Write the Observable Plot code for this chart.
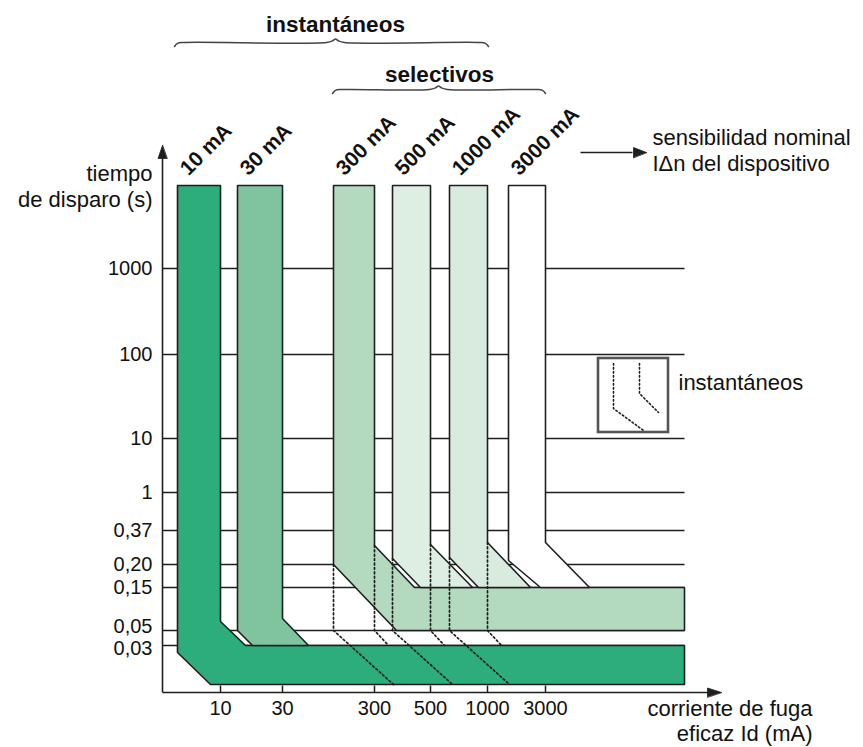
<!DOCTYPE html>
<html>
<head>
<meta charset="utf-8">
<script src="https://cdn.jsdelivr.net/npm/d3@7"></script>
<script src="https://cdn.jsdelivr.net/npm/@observablehq/plot@0.6"></script>
<style>
  html, body { margin: 0; padding: 0; background: #fff; }
  #chart svg { display: block; }
</style>
</head>
<body>
<div id="chart"></div>
<script>
// ---------------- DATA (schematic units: x = current axis, y = trip-time axis) ----------------
const devices      = ["10 mA", "30 mA", "300 mA", "500 mA", "1000 mA", "3000 mA"];
const currentTicks = ["10", "30", "300", "500", "1000", "3000"];          // IΔn (mA)
const bandLeft     = [15, 75, 171, 230, 287, 346];                         // lower limit of the trip band
const bandRight    = [58, 120, 212, 268, 325, 383];                        // IΔn (tick position)
const bendRight    = [71, 74, 147, 148, 150, 150];                         // where the inner edge bends
const bendLeft     = [40, 62, 128, 134, 135, 132];                         // where the outer edge bends
const meetRight    = [83, 146, 252, 310, 368, 427];                        // inner diagonal reaches plateau
const meetLeft     = [48, 90, 234, 258, 316, 378];                         // outer diagonal reaches plateau
const family       = [0, 0, 1, 1, 1, 1];                                   // 0 = instantáneo, 1 = selectivo
const ownsPlateau  = [true, false, true, false, false, false];
const bandTop      = 507;
const plateauTop   = [47, 105];                                            // 0,03 s  /  0,15 s
const plateauBottom= [8, 62];                                              // —      /  0,05 s
const plateauEnd   = 522;

const timeLabels   = ["1000", "100", "10", "1", "0,37", "0,20", "0,15", "0,05", "0,03"];
const timeLevels   = [424, 338, 254, 200, 162, 128, 105, 62, 47];

// instantaneous versions of the selective devices (dotted)
const instOf        = [2, 3, 4];
const instMeetLeft  = [231, 290, 347];
const instMeetRight = [226, 282, 339];

const groups = [
  {name: "instantáneos", from: 0, to: 4},
  {name: "selectivos",   from: 2, to: 5}
];

// ---------------- STYLE ----------------
const fills = ["#2cad7b", "#80c49f", "#b3d9bf", "#ddeee2", "#d9ebde", "#ffffff"];
const ink = "#1e1e1e";
const font = "'Liberation Sans', Arial, Helvetica, sans-serif";

// ---------------- GEOMETRY BUILT FROM DATA ----------------
function bandPolygon(i) {
  const p = family[i];
  const pts = [[bandLeft[i], bandTop], [bandRight[i], bandTop], [bandRight[i], bendRight[i]], [meetRight[i], plateauTop[p]]];
  if (ownsPlateau[i]) pts.push([plateauEnd, plateauTop[p]], [plateauEnd, plateauBottom[p]], [meetLeft[i], plateauBottom[p]]);
  else pts.push([meetLeft[i], plateauTop[p]]);
  pts.push([bandLeft[i], bendLeft[i]]);
  return pts.map(([x, y]) => ({x, y}));
}

const dotted = [];
instOf.forEach((d, k) => {
  [[bandLeft[d], bendLeft[d]], [bandLeft[d], plateauBottom[1]], [instMeetLeft[k], plateauBottom[0]]]
    .forEach(([x, y]) => dotted.push({id: "L" + d, x, y}));
  [[bandRight[d], bendRight[d]], [bandRight[d], plateauBottom[1]], [instMeetRight[k], plateauTop[0]]]
    .forEach(([x, y]) => dotted.push({id: "R" + d, x, y}));
});

const grid = timeLevels.map(y => ({y, x1: 0, x2: plateauEnd}));

function head(tx, ty, dx, dy, len, half) {
  // triangle with tip at (tx,ty) pointing along (dx,dy)
  const bx = tx - dx * len, by = ty - dy * len;
  return [{x: tx, y: ty}, {x: bx - dy * half, y: by + dx * half}, {x: bx + dy * half, y: by - dx * half}];
}

function brace(x0, x1, xm, yb) {
  const pts = [[x0, yb - 4], [x0 + 3, yb - 0.8], [x0 + 10, yb], [xm - 9, yb], [xm - 3, yb + 1.6], [xm, yb + 3.5],
               [xm + 3, yb + 1.6], [xm + 9, yb], [x1 - 10, yb], [x1 - 3, yb - 0.8], [x1, yb - 4]];
  return pts.map(([x, y]) => ({x, y}));
}

const braceInst = brace(bandLeft[groups[0].from] - 3, bandRight[groups[0].to] + 1, 173, 650);
const braceSel  = brace(bandLeft[groups[1].from] - 1, bandRight[groups[1].to], 276, 603);

const nudge = {"0,05": 4, "0,03": -3};
const yTickRows = timeLabels.map((t, i) => ({t, y: timeLevels[i] + (nudge[t] || 0)}));
const xTickRows = currentTicks.map((t, i) => ({t, x: bandRight[i]}));
const devLabelRows = devices.map((t, i) => ({t, x: bandLeft[i] + 11, y: 516}));

const marks = [
  // grid
  Plot.link(grid, {x1: "x1", x2: "x2", y1: "y", y2: "y", stroke: ink, strokeWidth: 1.5}),
  // bands
  ...devices.map((d, i) => Plot.line(bandPolygon(i), {x: "x", y: "y", curve: "linear-closed",
      fill: fills[i], stroke: ink, strokeWidth: 1.6, strokeLinejoin: "miter"})),
  // dotted instantaneous versions
  Plot.line(dotted, {x: "x", y: "y", z: "id", stroke: ink, strokeWidth: 1.7, strokeDasharray: "1.8,2.6"}),
  // axes
  Plot.link([{x1: 0, y1: 0, x2: 548, y2: 0}, {x1: 0, y1: 0, x2: 0, y2: 537}],
      {x1: "x1", y1: "y1", x2: "x2", y2: "y2", stroke: ink, strokeWidth: 1.6}),
  Plot.line(head(559, 0, 1, 0, 14, 4.5), {x: "x", y: "y", curve: "linear-closed", fill: ink, stroke: ink, strokeWidth: 0.8}),
  Plot.line(head(0, 547, 0, 1, 13, 4.5), {x: "x", y: "y", curve: "linear-closed", fill: ink, stroke: ink, strokeWidth: 0.8}),
  Plot.link(xTickRows, {x1: "x", x2: "x", y1: 0, y2: 7, stroke: ink, strokeWidth: 1.5}),
  // tick labels
  Plot.text(xTickRows, {x: "x", y: -16, text: "t", fontSize: 20, fill: "#111", fontFamily: font}),
  Plot.text(yTickRows, {x: -10, y: "y", text: "t", textAnchor: "end", fontSize: 20, fill: "#111", fontFamily: font}),
  // axis titles
  Plot.text(["tiempo\nde disparo (s)"], {x: -10, y: 486, text: d => d, textAnchor: "end", lineAnchor: "bottom",
      lineHeight: 1.16, fontSize: 22, fill: "#111", fontFamily: font}),
  Plot.text(["corriente de fuga\neficaz Id (mA)"], {x: 650, y: -48, text: d => d, textAnchor: "end", lineAnchor: "bottom",
      lineHeight: 1.12, fontSize: 22, fill: "#111", fontFamily: font}),
  // device labels
  Plot.text(devLabelRows, {x: "x", y: "y", text: "t", rotate: -45, textAnchor: "start", lineAnchor: "bottom",
      fontSize: 21, fontWeight: "bold", fill: "#111", fontFamily: font}),
  // sensibilidad arrow + text
  Plot.link([{x1: 418, x2: 470, y: 540}], {x1: "x1", x2: "x2", y1: "y", y2: "y", stroke: ink, strokeWidth: 1.6}),
  Plot.line(head(484, 540, 1, 0, 13, 5), {x: "x", y: "y", curve: "linear-closed", fill: ink, stroke: ink, strokeWidth: 0.8}),
  Plot.text(["sensibilidad nominal\nIΔn del dispositivo"], {x: 490, y: 522, text: d => d, textAnchor: "start",
      lineAnchor: "bottom", lineHeight: 1.18, fontSize: 22, fill: "#111", fontFamily: font}),
  // group braces + titles
  Plot.line(braceInst, {x: "x", y: "y", curve: "catmull-rom", stroke: "#444", strokeWidth: 1.5}),
  Plot.line(braceSel, {x: "x", y: "y", curve: "catmull-rom", stroke: "#444", strokeWidth: 1.5}),
  Plot.text([groups[0].name], {x: 173, y: 661, text: d => d, lineAnchor: "bottom", fontSize: 22.5, fontWeight: "bold",
      fill: "#111", fontFamily: font}),
  Plot.text([groups[1].name], {x: 277, y: 611, text: d => d, lineAnchor: "bottom", fontSize: 22.5, fontWeight: "bold",
      fill: "#111", fontFamily: font}),
  // legend box
  Plot.rect([{x1: 436, x2: 506, y1: 260, y2: 334}], {x1: "x1", x2: "x2", y1: "y1", y2: "y2", fill: "white",
      stroke: "#555", strokeWidth: 2.6}),
  Plot.line([{id: "a", x: 451, y: 329}, {id: "a", x: 451, y: 284}, {id: "a", x: 481, y: 262},
             {id: "b", x: 477, y: 329}, {id: "b", x: 477, y: 299}, {id: "b", x: 496, y: 280}],
      {x: "x", y: "y", z: "id", stroke: ink, strokeWidth: 1.6, strokeDasharray: "1.6,2.4"}),
  Plot.text(["instantáneos"], {x: 516, y: 303, text: d => d, textAnchor: "start", lineAnchor: "bottom",
      fontSize: 22, fill: "#111", fontFamily: font})
];

const chart = Plot.plot({
  width: 863,
  height: 747,
  margin: 0,
  x: {domain: [-162, 701], axis: null},
  y: {domain: [-55, 692], axis: null},
  style: {background: "white", fontFamily: font},
  marks
});
document.getElementById("chart").appendChild(chart);
</script>
</body>
</html>
